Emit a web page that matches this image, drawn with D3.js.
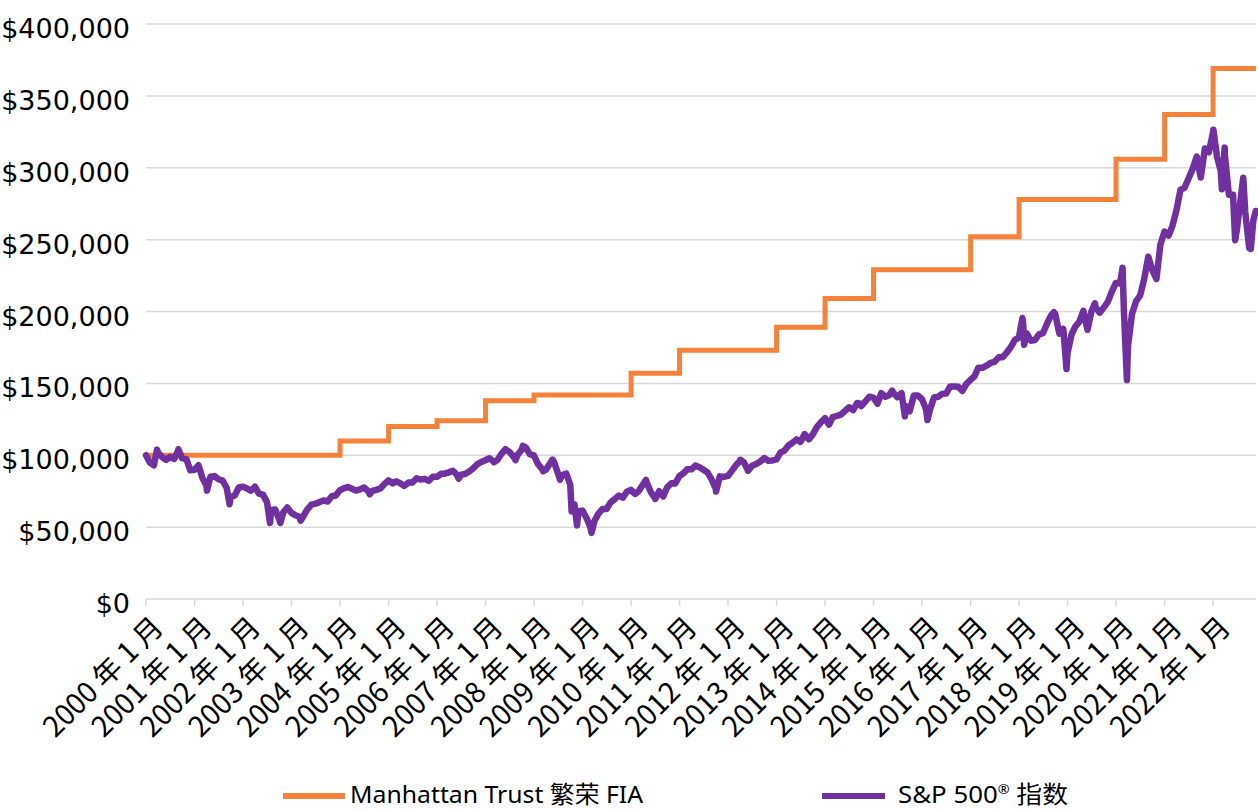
<!DOCTYPE html>
<html lang="zh">

<head>
    <meta charset="UTF-8">
    <title>Manhattan Trust 繁荣 FIA vs S&amp;P 500</title>
    <script src="https://d3js.org/d3.v7.min.js"></script>
</head>
<style>
    body {
        margin: 0;
        background: #fff;
    }

    .grid line,
    .x-axis line {
        stroke: #d9d9d9;
        stroke-width: 1.5;
    }

    .y-label {
        font-family: "DejaVu Sans", sans-serif;
        font-size: 27px;
        fill: #000;
    }

    .x-label {
        font-family: "Noto Sans CJK SC", sans-serif;
        font-size: 28.5px;
        fill: #000;
    }

    .legend text {
        font-family: "Noto Sans", "Noto Sans CJK SC", sans-serif;
        font-size: 23.5px;
        fill: #000;
    }
</style>

<body>
    <div id="chart"></div>
    <script>
        // FIA account value at the start of each year
        const fiaYears = [2000, 2001, 2002, 2003, 2004, 2005, 2006, 2007, 2008, 2009, 2010, 2011,
            2012, 2013, 2014, 2015, 2016, 2017, 2018, 2019, 2020, 2021, 2022];
        const fiaValues = [100000, 100000, 100000, 100000, 110000, 120000, 124000, 138000, 142000, 142000,
            157000, 173000, 173000, 189000, 209000, 229000, 229000, 252000, 278000, 278000,
            306000, 337000, 369000];

        // S&P 500 growth of $100k, month-end values in $ thousands, Dec 1999 .. Oct 2022
        const spMonthEnd = [
            100.0,
            94.9, 93.0, 102.0, 98.9, 96.7, 99.0, 97.4, 103.3, 97.8, 97.3, 89.5, 89.9,
            93.0, 84.4, 79.0, 85.0, 85.5, 83.3, 82.4, 77.2, 70.8, 72.1, 77.6, 78.1,
            76.9, 75.3, 78.1, 73.3, 72.6, 67.4, 62.0, 62.3, 55.5, 60.3, 63.7, 59.9,
            58.2, 57.2, 57.7, 62.4, 65.6, 66.3, 67.4, 68.6, 67.8, 71.5, 72.0, 75.7,
            77.0, 77.9, 76.7, 75.4, 76.3, 77.6, 75.0, 75.2, 75.9, 76.9, 79.9, 82.5,
            80.4, 81.9, 80.4, 78.7, 81.1, 81.1, 84.0, 83.1, 83.6, 82.2, 85.0, 85.0,
            87.1, 87.2, 88.1, 89.2, 86.4, 86.5, 86.9, 88.7, 90.9, 93.8, 95.3, 96.5,
            97.9, 95.8, 96.7, 100.9, 104.2, 102.3, 99.0, 100.3, 103.9, 105.5, 100.8, 99.9,
            93.8, 90.6, 90.0, 94.3, 95.3, 87.1, 86.3, 87.3, 79.4, 65.9, 61.0, 61.5,
            56.2, 50.0, 54.3, 59.4, 62.6, 62.6, 67.2, 69.5, 71.9, 70.5, 74.6, 75.9,
            73.1, 75.2, 79.6, 80.8, 74.1, 70.2, 75.0, 71.4, 77.7, 80.5, 80.4, 85.6,
            87.5, 90.3, 90.2, 92.8, 91.6, 89.9, 88.0, 83.0, 77.0, 85.3, 84.9, 85.6,
            89.3, 93.0, 95.9, 95.1, 89.2, 92.7, 93.9, 95.7, 98.1, 96.1, 96.4, 97.1,
            102.0, 103.1, 106.8, 108.7, 111.0, 109.3, 114.7, 111.1, 114.4, 119.6, 122.9, 125.8,
            121.3, 126.6, 127.4, 128.2, 130.9, 133.4, 131.4, 136.4, 134.2, 137.4, 140.7, 140.1,
            135.8, 143.2, 140.7, 141.9, 143.4, 140.4, 143.2, 134.2, 130.7, 141.5, 141.6, 139.1,
            132.1, 131.5, 140.2, 140.6, 142.7, 142.9, 147.9, 147.8, 147.6, 144.7, 149.7, 152.4,
            155.1, 160.9, 160.8, 162.3, 164.2, 164.9, 168.1, 168.2, 171.5, 175.3, 180.2, 182.0,
            192.2, 184.7, 179.7, 180.2, 184.1, 185.0, 191.7, 197.5, 198.3, 184.6, 187.9, 170.6,
            184.0, 189.5, 192.9, 200.5, 187.3, 200.2, 202.9, 199.2, 202.6, 206.7, 213.8, 219.9,
            219.5, 201.1, 175.9, 198.2, 207.2, 211.0, 222.6, 238.2, 228.9, 222.6, 246.5, 255.6,
            252.8, 259.4, 270.4, 284.6, 286.1, 292.5, 299.2, 307.8, 293.2, 313.4, 310.8, 324.4,
            307.3, 297.7, 308.3, 281.2, 281.2, 257.6, 281.1, 269.2, 244.0, 263.5
        ];

        // intra-month highs and lows visible on the line ($ thousands)
        const spSwingDates = ["2000-03-24", "2000-09-01", "2001-04-04", "2001-09-21", "2002-07-23",
            "2002-10-09", "2003-03-11", "2004-08-12", "2006-06-13", "2007-03-05", "2007-08-15",
            "2007-10-09", "2008-03-10", "2008-05-19", "2008-07-15", "2008-10-10", "2008-11-20",
            "2009-03-09", "2010-04-23", "2010-07-02", "2011-10-03", "2012-04-02", "2014-09-18",
            "2015-05-21", "2015-08-25", "2016-02-11", "2018-01-26", "2018-02-08", "2018-09-20",
            "2018-12-24", "2019-07-26", "2020-02-19", "2020-03-23", "2022-01-03", "2022-03-08",
            "2022-03-29", "2022-06-16", "2022-08-16", "2022-10-12", "2022-11-18"];
        const spSwingValues = [103.9, 104.2, 75.4, 65.9, 52.9,
            52.9, 54.5, 72.8, 83.7, 95.2, 96.6,
            106.5, 88.9, 97.0, 83.0, 61.0, 51.2,
            46.0, 82.8, 69.6, 74.8, 96.9, 136.1,
            145.0, 127.1, 124.5, 195.5, 176.8, 199.5,
            160.0, 205.7, 230.5, 152.3, 326.5, 285.0,
            314.0, 249.6, 293.0, 243.5, 269.9];

        const yTicks = [0, 50000, 100000, 150000, 200000, 250000, 300000, 350000, 400000];
        const xTickYears = fiaYears;
        const xTickLabels = xTickYears.map(y => y + " 年 1 月");
        const seriesNames = ["Manhattan Trust 繁荣 FIA", "S&P 500", "指数"];
        const seriesColors = ["#f5823a", "#7030a0"];

        const width = 1258, height = 811;
        const startDate = new Date(2000, 0, 1),
            endDate = new Date(2022, 10, 20);

        const svg = d3.select("#chart")
            .append("svg")
            .attr("width", width)
            .attr("height", height);

        const x = d3.scaleTime()
            .domain([startDate, endDate])
            .range([146, 1256]);

        const y = d3.scaleLinear()
            .domain([0, 400000])
            .range([599, 24]);

        // Horizontal gridlines
        svg.append("g")
            .attr("class", "grid")
            .selectAll("line")
            .data(yTicks.filter(d => d > 0))
            .join("line")
            .attr("x1", x.range()[0])
            .attr("x2", x.range()[1])
            .attr("y1", d => y(d))
            .attr("y2", d => y(d));

        // Y labels
        svg.append("g")
            .selectAll("text")
            .data(yTicks)
            .join("text")
            .attr("class", "y-label")
            .attr("x", 130)
            .attr("y", d => y(d) + 14)
            .attr("text-anchor", "end")
            .text(d => d3.format("$,")(d));

        // X axis line with year ticks
        const xAxis = svg.append("g").attr("class", "x-axis");
        xAxis.append("line")
            .attr("x1", x.range()[0])
            .attr("x2", x.range()[1])
            .attr("y1", y(0))
            .attr("y2", y(0));
        xAxis.selectAll(".tick")
            .data(xTickYears)
            .join("line")
            .attr("class", "tick")
            .attr("x1", d => x(new Date(d, 0, 1)))
            .attr("x2", d => x(new Date(d, 0, 1)))
            .attr("y1", y(0))
            .attr("y2", y(0) + 7);

        // rotated tick labels
        xAxis.selectAll("text")
            .data(xTickYears)
            .join("text")
            .attr("class", "x-label")
            .attr("text-anchor", "end")
            .attr("transform", d => {
                const tx = x(new Date(d, 0, 1)) + 19, ty = y(0) + 30;
                return "translate(" + tx + "," + ty + ") rotate(-45)";
            })
            .text((d, i) => xTickLabels[i]);

        // FIA step line
        const fiaData = fiaYears.map((yr, i) => ({ date: new Date(yr, 0, 1), value: fiaValues[i] }));
        fiaData.push({ date: endDate, value: fiaValues[fiaValues.length - 1] });

        svg.append("path")
            .datum(fiaData)
            .attr("fill", "none")
            .attr("stroke", seriesColors[0])
            .attr("stroke-width", 5)
            .attr("d", d3.line()
                .curve(d3.curveStepAfter)
                .x(d => x(d.date))
                .y(d => y(d.value)));

        // S&P line: month ends + swing points, sorted by date
        const parseDate = d3.timeParse("%Y-%m-%d");
        const spData = spMonthEnd.map((v, i) => ({
            date: i === 0 ? startDate : new Date(2000, i, 0),
            value: v * 1000
        })).concat(spSwingDates.map((s, i) => ({
            date: parseDate(s),
            value: spSwingValues[i] * 1000
        })));
        spData.sort((a, b) => a.date - b.date);

        svg.append("path")
            .datum(spData)
            .attr("fill", "none")
            .attr("stroke", seriesColors[1])
            .attr("stroke-width", 6.5)
            .attr("stroke-linejoin", "round")
            .attr("stroke-linecap", "round")
            .attr("d", d3.line()
                .x(d => x(d.date))
                .y(d => y(d.value)));

        // Legend
        const legend = svg.append("g").attr("class", "legend");
        legend.append("line")
            .attr("x1", 283).attr("x2", 345)
            .attr("y1", 796).attr("y2", 796)
            .attr("stroke", seriesColors[0])
            .attr("stroke-width", 6);
        legend.append("text")
            .attr("x", 350)
            .attr("y", 803)
            .attr("textLength", 293)
            .attr("lengthAdjust", "spacingAndGlyphs")
            .text(seriesNames[0]);

        legend.append("line")
            .attr("x1", 822).attr("x2", 885)
            .attr("y1", 796).attr("y2", 796)
            .attr("stroke", seriesColors[1])
            .attr("stroke-width", 6);
        const spText = legend.append("text")
            .attr("x", 898)
            .attr("y", 803)
            .attr("textLength", 170)
            .attr("lengthAdjust", "spacingAndGlyphs");
        spText.append("tspan").text(seriesNames[1]);
        spText.append("tspan").attr("dy", -9).style("font-size", "13px").text("®");
        spText.append("tspan").attr("dy", 9).text(" " + seriesNames[2]);
    </script>

</body>

</html>
